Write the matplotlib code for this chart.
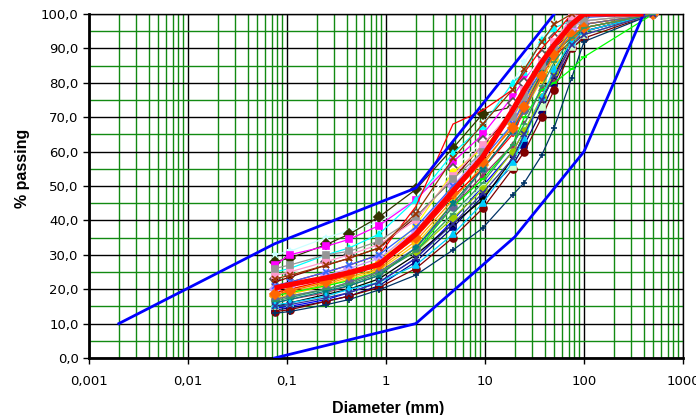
import numpy as np
import matplotlib
matplotlib.use('Agg')
import matplotlib.pyplot as plt
from matplotlib.ticker import FixedLocator, FuncFormatter, NullFormatter

plt.rcParams['font.family'] = ['Liberation Sans', 'DejaVu Sans']

## DATA ##
# sieve sizes (mm)
SIEVES = [0.075, 0.106, 0.25, 0.425, 0.85, 2, 4.75, 9.5, 19, 25, 37.5, 50, 75, 100, 500]

# % passing per sample
samples = [
    [30, 31, 35, 37, 39.5, 46, 58, 68, 80, 86, 93, 97, 100, 100, 100],
    [28, 29, 33, 36, 41, 49, 61, 71, 73, 76, 83, 90, 98, 100, 100],
    [27, 30, 32.5, 34.5, 38.5, 46, 57, 65, 76, 81, 87, 89, 100, 100, 100],
    [25, 26, 30, 32, 36, 46, 59.5, 67.5, 80, 83, 92.5, 96, 98, 100, 100],
    [23, 24, 28, 30, 33, 42, 55, 63, 74, 80, 88, 93, 97, 99, 100],
    [22, 23.5, 27, 29, 32, 41, 52, 62, 71, 77, 85, 90, 95, 97, 100],
    [21, 22, 25, 27, 30, 44, 68, 72, 78, 83, 90, 94, 100, 100, 100],
    [19, 20, 22, 24.5, 28, 38.5, 54, 61, 70, 75, 83, 88, 96, 98, 100],
    [18, 19, 21.5, 23.5, 26, 34, 46, 56, 68, 74, 83, 89, 95, 97, 100],
    [17, 18.5, 21, 23, 25.5, 33, 45, 55, 66, 72, 81, 87, 94, 96, 100],
    [14.5, 15, 17, 19, 22, 29, 40, 50, 60, 66, 75, 82, 92, 95, 100],
    [14, 14.5, 16.5, 18, 21, 28, 38, 47, 56, 62, 72, 80, 90, 94, 100],
    [13.5, 14, 16.5, 18, 20.5, 26, 35, 43.5, 55, 60, 70, 78, 90, 93, 100],
    [13, 13.5, 15.5, 17, 19.8, 24.1, 31.4, 37.8, 47.4, 51, 59, 67, 81.4, 92, 100],
    [16, 17, 19, 21, 24, 32, 44, 53, 62, 68, 78.5, 81, 91, 95, 100],
    [15, 16, 18, 20, 23, 30, 42, 50, 55.6, 67, 73, 83.7, 90.4, 94, 100],
    [18, 19, 21, 22.5, 25, 31, 44, 52, 62, 70, 78, 80, 84, 87.5, 100],
    [15, 16, 18.5, 20, 23, 30, 39, 46, 58, 65, 75, 82, 93, 96, 100],
    [17, 18, 20, 22, 25, 31, 40.7, 49, 60, 66, 76, 83, 93, 96, 100],
    [19, 20, 22.5, 24, 27, 35, 47, 55, 65, 72, 83, 88, 92, 95, 100],
    [17, 18, 20, 22, 25, 32, 44, 55, 66, 72, 82, 88, 95, 97, 100],
    [24, 25, 28, 30, 33, 40, 53, 62, 72, 78, 86, 92, 99, 100, 100],
    [20, 21, 24, 26, 29, 37, 50, 60, 70, 76, 85, 90, 96, 98, 100],
    [21, 22, 25, 27, 30, 38, 50, 58, 68, 75, 84, 90, 97, 99, 100],
    [16, 17, 19.5, 21, 24, 32, 45, 55, 66, 73, 83, 89, 93, 95, 100],
    [15.5, 16, 18, 20, 22, 27, 36, 45, 57, 64, 76, 84, 92, 95, 100],
    [26, 27, 30, 31, 34, 41, 52, 60, 70, 76, 85, 90, 97, 98, 100],
    [23, 24, 27, 29, 32, 42, 58, 68, 78, 84, 92, 97, 100, 100, 100],
    [18.5, 19.5, 22, 24, 27, 35, 48, 57, 67, 73, 82, 88, 94, 96, 100],
    [15, 15.5, 17.5, 19, 22, 29, 39, 48, 58, 65, 75, 82, 91, 94, 100],
    [16.5, 17.5, 20, 21.5, 24.5, 31, 42, 51, 62, 68, 79, 86, 93, 96, 100],
]

colors = ['#CCFFFF', '#333300', '#FF00FF', '#00FFFF', '#FFFFFF', '#800000', '#FF0000',
          '#FFFF00', '#FF9900', '#FFCC00', '#0000FF', '#000080', '#800000', '#003366',
          '#993366', '#CCFFCC', '#00FF00', '#000000', '#99CC00', '#FF0000', '#666699',
          '#FF99CC', '#CC99FF', '#3366FF', '#008080', '#00CCFF', '#969696', '#993300',
          '#FF6600', '#333399', '#339966']
markers = ['*', 'D', 's', '^', 'D', 'x', None, 'o', 'D', 'o', '_', 's', 'o', '+',
           '^', 's', '_', '*', 'o', '+', 'o', 's', 'D', 'x', '*', '^', 's', 'x',
           'D', 'x', '_']

# average curve
average = [20.3, 21.3, 23.3, 24.8, 27.2, 36, 48.5, 58.5, 72, 78, 86, 91, 97, 100, 100]
avg_sizes = [0.075, 0.106, 0.25, 0.425, 0.85, 2, 4.75, 9.5, 19, 25, 37.5, 50, 75, 100, 400]

# envelope
upper_x = [0.002, 0.075, 2, 50]
upper_y = [10, 33.2, 49.4, 100]
lower_x = [0.075, 2, 10, 20, 100, 400]
lower_y = [0, 10, 27.6, 35.2, 60, 100]

## PLOT ##
fig = plt.figure(figsize=(6.96, 4.15), dpi=100)
ax = fig.add_axes([89/696, 57/415, 594/696, 344/415])

ax.set_xscale('log')
ax.set_xlim(0.001, 1000)
ax.set_ylim(0, 100)

# grid
ax.xaxis.set_minor_locator(FixedLocator([m * 10.0**e for e in range(-3, 3) for m in range(2, 10)]))
ax.yaxis.set_minor_locator(FixedLocator(np.arange(5, 100, 10)))
ax.grid(which='minor', color='#128a12', lw=1, zorder=0)
ax.grid(which='major', color='black', lw=1, zorder=0)
ax.set_axisbelow(True)

for vals, c, m in zip(samples, colors, markers):
    edge = '#555555' if c == '#FFFFFF' else c
    ax.plot(SIEVES, vals, color=c, lw=0.9, marker=m, ms=5, mfc=c, mec=edge,
            mew=1.2, zorder=3)

ax.plot(upper_x, upper_y, color='#0000FF', lw=2, zorder=4)
ax.plot(lower_x, lower_y, color='#0000FF', lw=2, zorder=4)
ax.plot(avg_sizes, average, color='#FF0000', lw=3.8, zorder=5, solid_capstyle='butt')

# ticks
ax.set_xticks([0.001, 0.01, 0.1, 1, 10, 100, 1000])
ax.set_xticklabels(['0,001', '0,01', '0,1', '1', '10', '100', '1000'])
ax.xaxis.set_minor_formatter(NullFormatter())
ax.set_yticks(np.arange(0, 101, 10))
ax.yaxis.set_major_formatter(FuncFormatter(lambda v, p: f'{v:.1f}'.replace('.', ',')))
ax.tick_params(axis='both', which='major', length=4, width=1,
               direction='out', colors='black')
ax.tick_params(axis='x', which='major', pad=8.5)
ax.tick_params(axis='y', which='major', pad=3.5)
ax.tick_params(axis='both', which='minor', length=0)
for lab in ax.get_xticklabels() + ax.get_yticklabels():
    lab.set_family('DejaVu Sans')
    lab.set_fontsize(9.5)

for s in ['left', 'bottom']:
    ax.spines[s].set_linewidth(2)
for s in ['top', 'right']:
    ax.spines[s].set_linewidth(1)

fig.text(388/696, 1 - 408/415, 'Diameter (mm)', fontsize=11.5, fontweight='bold',
         ha='center', va='center')
fig.text(23/696, 1 - 168/415, '% passing', fontsize=11.5, fontweight='bold',
         ha='center', va='center', rotation=90)

fig.savefig('out.png', dpi=100)
